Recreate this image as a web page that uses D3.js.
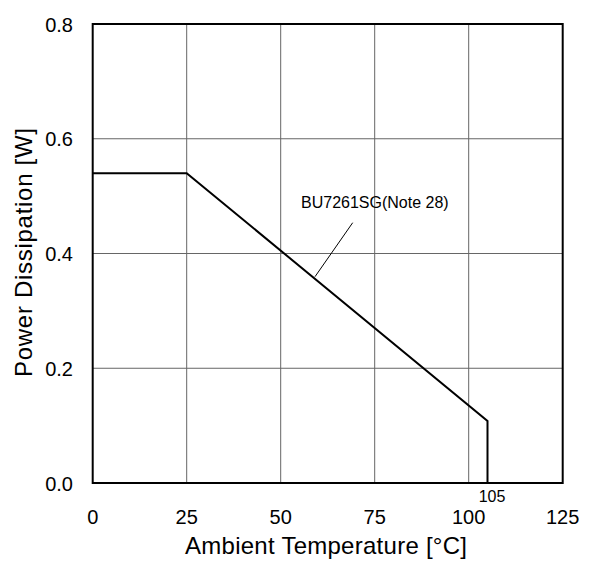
<!DOCTYPE html>
<html>
<head>
<script src="https://d3js.org/d3.v7.min.js"></script>
<style>
  body { margin: 0; background: white; }
  text { font-family: 'Liberation Sans', Arial, sans-serif; fill: black; }
</style>
</head>
<body>
<svg id="chart"></svg>
<script>
var width = 595, height = 561;

// data
var tempTicks = [0, 25, 50, 75, 100, 125];
var powerTicks = [0.0, 0.2, 0.4, 0.6, 0.8];
var curveTemp = [0, 25, 105, 105];
var curvePower = [0.54, 0.54, 0.108, 0];
var curveLabel = "BU7261SG(Note 28)";

var svg = d3.select("#chart").attr("width", width).attr("height", height);

var x = d3.scaleLinear().domain([0, 125]).range([92.7, 562.7]);
var y = d3.scaleLinear().domain([0, 0.8]).range([483, 24]);

// grid
svg.append("g").selectAll("line").data(tempTicks.slice(1, -1)).enter().append("line")
  .attr("x1", d => x(d)).attr("x2", d => x(d))
  .attr("y1", y(0)).attr("y2", y(0.8))
  .attr("stroke", "#666").attr("stroke-width", 1);
svg.append("g").selectAll("line").data(powerTicks.slice(1, -1)).enter().append("line")
  .attr("x1", x(0)).attr("x2", x(125))
  .attr("y1", d => y(d)).attr("y2", d => y(d))
  .attr("stroke", "#666").attr("stroke-width", 1);

// frame
svg.append("rect")
  .attr("x", x(0)).attr("y", y(0.8))
  .attr("width", x(125) - x(0)).attr("height", y(0) - y(0.8))
  .attr("fill", "none").attr("stroke", "black").attr("stroke-width", 2);

// tick labels
svg.append("g").selectAll("text").data(tempTicks).enter().append("text")
  .attr("x", d => x(d)).attr("y", 524)
  .attr("text-anchor", "middle").attr("font-size", 20)
  .text(d => d);
svg.append("g").selectAll("text").data(powerTicks).enter().append("text")
  .attr("x", 73).attr("y", d => y(d) + 7.5)
  .attr("text-anchor", "end").attr("font-size", 20)
  .text(d => d.toFixed(1));

// curve
var pts = curveTemp.map((t, i) => [x(t), y(curvePower[i])]);
svg.append("path")
  .attr("d", d3.line()(pts))
  .attr("fill", "none").attr("stroke", "black").attr("stroke-width", 2);

// annotation
svg.append("line")
  .attr("x1", 352.7).attr("y1", 222.7).attr("x2", 315).attr("y2", 276.7)
  .attr("stroke", "black").attr("stroke-width", 1);
svg.append("text")
  .attr("x", 301).attr("y", 208).attr("font-size", 16)
  .text(curveLabel);
svg.append("text")
  .attr("x", 492).attr("y", 502).attr("text-anchor", "middle").attr("font-size", 16)
  .text("105");

// axis titles
svg.append("text")
  .attr("x", 326).attr("y", 554).attr("text-anchor", "middle").attr("font-size", 24)
  .attr("textLength", 282).attr("lengthAdjust", "spacing")
  .text("Ambient Temperature [°C]");
svg.append("text")
  .attr("transform", "translate(32,252.5) rotate(-90)")
  .attr("text-anchor", "middle").attr("font-size", 24)
  .attr("textLength", 249).attr("lengthAdjust", "spacing")
  .text("Power Dissipation [W]");
</script>
</body>
</html>
